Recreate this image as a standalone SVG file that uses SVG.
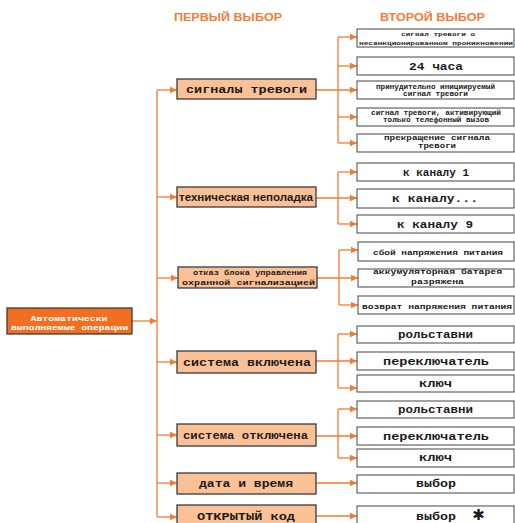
<svg xmlns="http://www.w3.org/2000/svg" width="515" height="523" viewBox="0 0 515 523">
<defs>
<marker id="ah" markerUnits="userSpaceOnUse" markerWidth="8" markerHeight="8" refX="7" refY="4" orient="auto">
<path d="M0,0.8 L7,4 L0,7.2 Z" fill="#F47A30"/>
</marker>
<style>
.hd{font-family:"Liberation Sans",Arial,sans-serif;font-weight:bold;font-size:11.5px;fill:#F47B3A}
.b1{fill:#FBC196;stroke:#3a3a3a;stroke-width:1.3}
.b2{fill:#fff;stroke:#444;stroke-width:1}
.bm{fill:#F26F21;stroke:#3a3a3a;stroke-width:1.3}
.m{font-family:"Liberation Mono","Courier New",monospace;font-weight:bold;fill:#1a1a1a;text-anchor:middle}
.s{font-family:"Liberation Sans",Arial,sans-serif;font-weight:bold;fill:#1a1a1a;text-anchor:middle}
.w{fill:#fff}
.c{fill:none;stroke:#F47A30;stroke-width:1.3}
.a{fill:none;stroke:#F47A30;stroke-width:1.3;marker-end:url(#ah)}
</style>
</defs>
<rect width="515" height="523" fill="#fff"/>
<text class="hd" x="174" y="21" textLength="108" lengthAdjust="spacingAndGlyphs">ПЕРВЫЙ ВЫБОР</text>
<text class="hd" x="380" y="21" textLength="105" lengthAdjust="spacingAndGlyphs">ВТОРОЙ ВЫБОР</text>

<g id="connectors">
<path class="a" d="M132,321 H157"/>
<path class="c" d="M157,90 V517"/>
<path class="a" d="M157,90 H177"/>
<path class="a" d="M157,197 H177"/>
<path class="a" d="M157,278 H178"/>
<path class="a" d="M157,362 H177"/>
<path class="a" d="M157,435 H177"/>
<path class="a" d="M157,483 H177"/>
<path class="a" d="M157,517 H177"/>
<path class="c" d="M338,37 V143"/>
<path class="a" d="M338,37 H357"/>
<path class="a" d="M338,66 H357"/>
<path class="a" d="M316,90 H357"/>
<path class="a" d="M338,117 H357"/>
<path class="a" d="M338,143 H357"/>
<path class="c" d="M338,172 V224"/>
<path class="a" d="M338,172 H357"/>
<path class="a" d="M316,198 H357"/>
<path class="a" d="M338,224 H357"/>
<path class="c" d="M339,250 V305"/>
<path class="a" d="M339,250 H358"/>
<path class="a" d="M317,278 H358"/>
<path class="a" d="M339,305 H358"/>
<path class="c" d="M338,334 V388"/>
<path class="a" d="M338,334 H357"/>
<path class="a" d="M316,361 H357"/>
<path class="a" d="M338,388 H357"/>
<path class="c" d="M338,409 V458"/>
<path class="a" d="M338,409 H357"/>
<path class="a" d="M316,436 H357"/>
<path class="a" d="M338,458 H357"/>
<path class="a" d="M316,483 H357"/>
<path class="a" d="M316,516 H357"/>
</g>

<g id="root">
<rect class="bm" x="7" y="308" width="125" height="26"/>
<text class="m w" x="69" y="320.5" font-size="7" textLength="77" lengthAdjust="spacingAndGlyphs">Автоматически</text>
<text class="m w" x="69.5" y="329.5" font-size="7" textLength="117" lengthAdjust="spacingAndGlyphs">выполняемые операции</text>
</g>

<g id="n-alarm">
<rect class="b1" x="177" y="79" width="139" height="20"/>
<text class="m" x="246.5" y="93" font-size="11" textLength="121" lengthAdjust="spacingAndGlyphs">сигналы тревоги</text>
</g>
<g id="n-fault">
<rect class="b1" x="177" y="187" width="139" height="20"/>
<text class="s" x="246" y="200.5" font-size="11" textLength="134" lengthAdjust="spacingAndGlyphs">техническая неполадка</text>
</g>
<g id="n-ctrl">
<rect class="b1" x="178" y="267" width="139" height="21"/>
<text class="m" x="250" y="274.5" font-size="8" textLength="114" lengthAdjust="spacingAndGlyphs">отказ блока управления</text>
<text class="m" x="248.5" y="284.5" font-size="8" textLength="133" lengthAdjust="spacingAndGlyphs">охранной сигнализацией</text>
</g>
<g id="n-on">
<rect class="b1" x="177" y="351" width="139" height="22"/>
<text class="m" x="247" y="365.5" font-size="10.5" textLength="128" lengthAdjust="spacingAndGlyphs">система включена</text>
</g>
<g id="n-off">
<rect class="b1" x="177" y="424" width="139" height="22"/>
<text class="m" x="245.5" y="438.5" font-size="10.5" textLength="125" lengthAdjust="spacingAndGlyphs">система отключена</text>
</g>
<g id="n-date">
<rect class="b1" x="177" y="473" width="139" height="21"/>
<text class="m" x="246" y="487" font-size="10.5" textLength="94" lengthAdjust="spacingAndGlyphs">дата и время</text>
</g>
<g id="n-code">
<rect class="b1" x="177" y="505" width="139" height="24"/>
<text class="m" x="246" y="520" font-size="10.5" textLength="98" lengthAdjust="spacingAndGlyphs">ОТКРЫТЫЙ код</text>
</g>

<g id="s-1-1">
<rect class="b2" x="357" y="29" width="157" height="18"/>
<text class="m" x="438" y="35.5" font-size="6" textLength="74" lengthAdjust="spacingAndGlyphs">сигнал тревоги о</text>
<text class="m" x="436" y="44.5" font-size="6" textLength="154" lengthAdjust="spacingAndGlyphs">несанкционированном проникновении</text>
</g>
<g id="s-1-2">
<rect class="b2" x="357" y="57" width="157" height="18"/>
<text class="m" x="436" y="69.5" font-size="11" textLength="54" lengthAdjust="spacingAndGlyphs">24 часа</text>
</g>
<g id="s-1-3">
<rect class="b2" x="357" y="81" width="157" height="18"/>
<text class="m" x="435.5" y="88.5" font-size="6.5" textLength="119" lengthAdjust="spacingAndGlyphs">принудительно инициируемый</text>
<text class="m" x="435.5" y="96" font-size="6.5" textLength="65" lengthAdjust="spacingAndGlyphs">сигнал тревоги</text>
</g>
<g id="s-1-4">
<rect class="b2" x="357" y="108" width="157" height="18"/>
<text class="m" x="436" y="114.5" font-size="6.5" textLength="130" lengthAdjust="spacingAndGlyphs">сигнал тревоги, активирующий</text>
<text class="m" x="436" y="122" font-size="6.5" textLength="106" lengthAdjust="spacingAndGlyphs">только телефонный вызов</text>
</g>
<g id="s-1-5">
<rect class="b2" x="357" y="134" width="157" height="18"/>
<text class="m" x="437" y="140" font-size="6.5" textLength="106" lengthAdjust="spacingAndGlyphs">прекращение сигнала</text>
<text class="m" x="437" y="147.5" font-size="6.5" textLength="38" lengthAdjust="spacingAndGlyphs">тревоги</text>
</g>

<g id="s-2-1">
<rect class="b2" x="357" y="163" width="157" height="18"/>
<text class="m" x="436" y="175.5" font-size="10" textLength="66" lengthAdjust="spacingAndGlyphs">к каналу 1</text>
</g>
<g id="s-2-2">
<rect class="b2" x="357" y="189" width="157" height="19"/>
<text class="m" x="435" y="202" font-size="10" textLength="86" lengthAdjust="spacingAndGlyphs">к каналу...</text>
</g>
<g id="s-2-3">
<rect class="b2" x="357" y="215" width="157" height="18"/>
<text class="m" x="435" y="228" font-size="10" textLength="76" lengthAdjust="spacingAndGlyphs">к каналу 9</text>
</g>

<g id="s-3-1">
<rect class="b2" x="358" y="242" width="156" height="19"/>
<text class="m" x="438" y="254.5" font-size="8" textLength="130" lengthAdjust="spacingAndGlyphs">сбой напряжения питания</text>
</g>
<g id="s-3-2">
<rect class="b2" x="358" y="269" width="156" height="18"/>
<text class="m" x="437.5" y="274" font-size="8" textLength="129" lengthAdjust="spacingAndGlyphs">аккумуляторная батарея</text>
<text class="m" x="437.5" y="283.5" font-size="8" textLength="53" lengthAdjust="spacingAndGlyphs">разряжена</text>
</g>
<g id="s-3-3">
<rect class="b2" x="358" y="296" width="156" height="18"/>
<text class="m" x="437" y="308.5" font-size="8" textLength="150" lengthAdjust="spacingAndGlyphs">возврат напряжения питания</text>
</g>

<g id="s-4-1">
<rect class="b2" x="357" y="326" width="157" height="17"/>
<text class="m" x="435.5" y="338" font-size="10" textLength="75" lengthAdjust="spacingAndGlyphs">рольставни</text>
</g>
<g id="s-4-2">
<rect class="b2" x="357" y="352" width="157" height="18"/>
<text class="m" x="436" y="364.5" font-size="10" textLength="106" lengthAdjust="spacingAndGlyphs">переключатель</text>
</g>
<g id="s-4-3">
<rect class="b2" x="357" y="375" width="157" height="17"/>
<text class="m" x="435.5" y="387" font-size="10" textLength="33" lengthAdjust="spacingAndGlyphs">ключ</text>
</g>

<g id="s-5-1">
<rect class="b2" x="357" y="401" width="157" height="17"/>
<text class="m" x="435.5" y="413" font-size="10" textLength="75" lengthAdjust="spacingAndGlyphs">рольставни</text>
</g>
<g id="s-5-2">
<rect class="b2" x="357" y="427" width="157" height="18"/>
<text class="m" x="436" y="439.5" font-size="10" textLength="106" lengthAdjust="spacingAndGlyphs">переключатель</text>
</g>
<g id="s-5-3">
<rect class="b2" x="357" y="449" width="157" height="18"/>
<text class="m" x="435.5" y="461" font-size="10" textLength="33" lengthAdjust="spacingAndGlyphs">ключ</text>
</g>

<g id="s-6-1">
<rect class="b2" x="357" y="475" width="157" height="18"/>
<text class="m" x="436" y="487" font-size="10" textLength="40" lengthAdjust="spacingAndGlyphs">выбор</text>
</g>
<g id="s-7-1">
<rect class="b2" x="357" y="506" width="157" height="22"/>
<text class="m" x="436" y="519.5" font-size="10" textLength="40" lengthAdjust="spacingAndGlyphs">выбор</text>
<text x="478.5" y="520" font-family="DejaVu Sans,sans-serif" font-weight="bold" font-size="15" fill="#1a1a1a" text-anchor="middle">✱</text>
</g>
</svg>
